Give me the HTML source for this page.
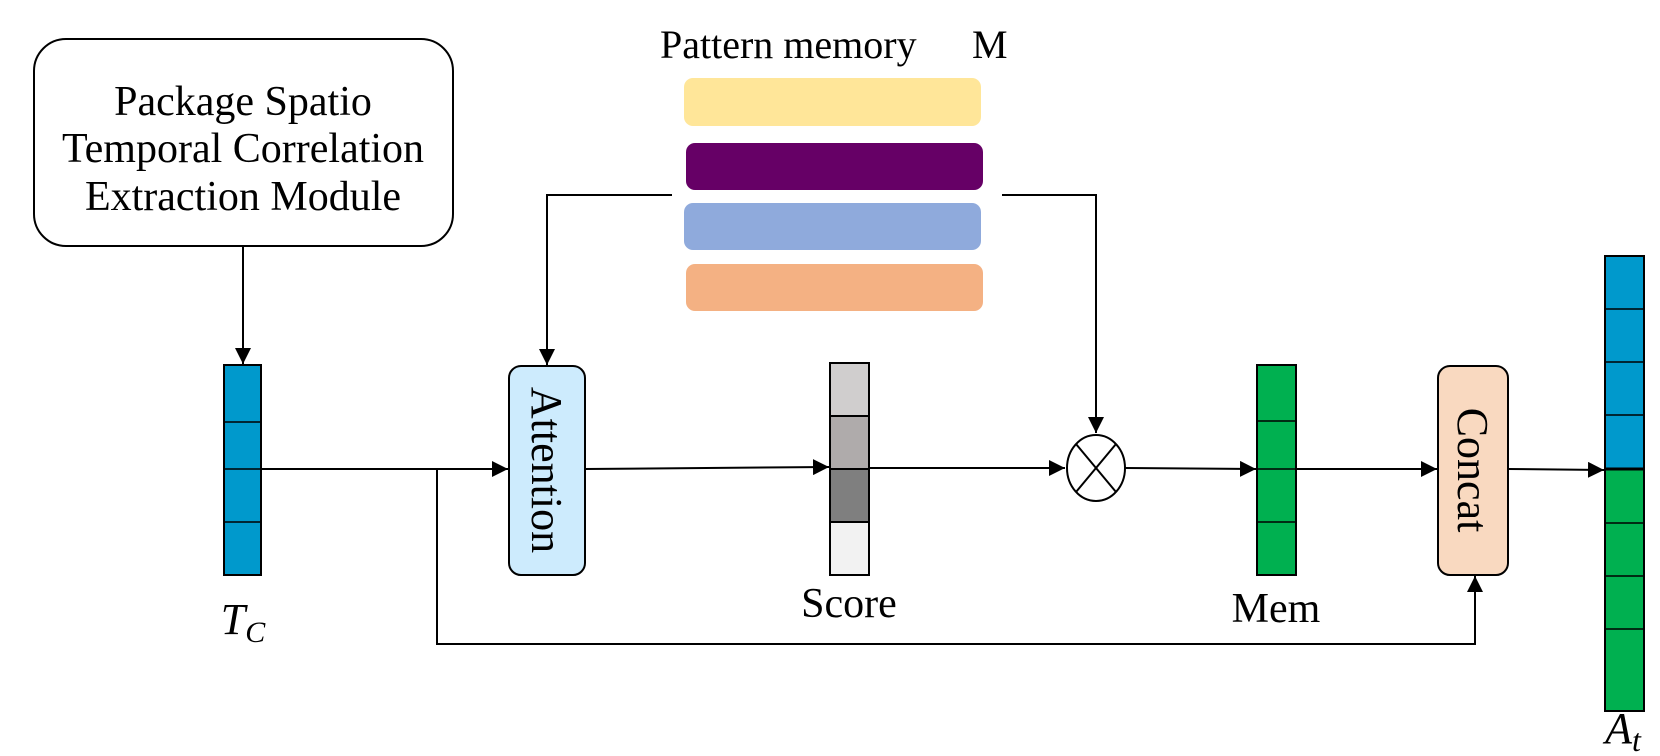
<!DOCTYPE html>
<html><head><meta charset="utf-8"><style>
html,body{margin:0;padding:0;background:#fff;}
svg{display:block;}
text{font-family:"Liberation Serif",serif;fill:#000;}
</style></head><body>
<svg width="1660" height="756" viewBox="0 0 1660 756" xmlns="http://www.w3.org/2000/svg">
<defs>
<marker id="b" viewBox="0 0 10 10" markerWidth="16" markerHeight="16" refX="10" refY="5" orient="auto" markerUnits="userSpaceOnUse">
<path d="M0,0 L10,5 L0,10 z" fill="#000"/>
</marker>
</defs>
<rect x="34" y="39" width="419" height="207" rx="32" fill="#fff" stroke="#000" stroke-width="2"/>
<text x="243" y="115" font-size="42" text-anchor="middle">Package Spatio</text>
<text x="243" y="162" font-size="42" text-anchor="middle">Temporal Correlation</text>
<text x="243" y="210" font-size="42" text-anchor="middle">Extraction Module</text>
<line x1="243" y1="246" x2="243" y2="364" stroke="#000" stroke-width="2" marker-end="url(#b)"/>

<text x="660" y="58" font-size="40">Pattern memory</text>
<text x="972" y="58" font-size="40">M</text>
<rect x="684" y="78" width="297" height="48" rx="9" fill="#ffe699"/>
<rect x="686" y="143" width="297" height="47" rx="9" fill="#660066"/>
<rect x="684" y="203" width="297" height="47" rx="9" fill="#8faadc"/>
<rect x="686" y="264" width="297" height="47" rx="9" fill="#f4b183"/>
<polyline points="672,195 547,195 547,365" fill="none" stroke="#000" stroke-width="2" marker-end="url(#b)"/>
<polyline points="1002,195 1096,195 1096,433" fill="none" stroke="#000" stroke-width="2" marker-end="url(#b)"/>

<rect x="224" y="365" width="37" height="210" fill="#0099cc" stroke="#000" stroke-width="2"/>
<line x1="224" y1="422" x2="261" y2="422" stroke="#000" stroke-width="1.5"/>
<line x1="224" y1="469" x2="261" y2="469" stroke="#000" stroke-width="1.5"/>
<line x1="224" y1="522" x2="261" y2="522" stroke="#000" stroke-width="1.5"/>
<text x="243" y="634" font-size="44" font-style="italic" text-anchor="middle">T<tspan font-size="30" dy="8">C</tspan></text>

<line x1="261" y1="469" x2="508" y2="469" stroke="#000" stroke-width="2" marker-end="url(#b)"/>
<polyline points="437,469 437,644 1475,644 1475,576" fill="none" stroke="#000" stroke-width="2" marker-end="url(#b)"/>

<rect x="509" y="366" width="76" height="209" rx="12" fill="#cdebfd" stroke="#000" stroke-width="2"/>
<text transform="translate(532,470) rotate(90)" font-size="44" text-anchor="middle">Attention</text>
<line x1="585" y1="469" x2="829" y2="467" stroke="#000" stroke-width="2" marker-end="url(#b)"/>

<rect x="830" y="363" width="39" height="53" fill="#d0cece" stroke="#000" stroke-width="2"/>
<rect x="830" y="416" width="39" height="53" fill="#afabab" stroke="#000" stroke-width="2"/>
<rect x="830" y="469" width="39" height="53" fill="#7f7f7f" stroke="#000" stroke-width="2"/>
<rect x="830" y="522" width="39" height="53" fill="#f2f2f2" stroke="#000" stroke-width="2"/>
<text x="849" y="617" font-size="42" text-anchor="middle">Score</text>
<line x1="869" y1="468" x2="1065" y2="468" stroke="#000" stroke-width="2" marker-end="url(#b)"/>

<ellipse cx="1096" cy="468" rx="29" ry="33" fill="#fff" stroke="#000" stroke-width="2"/>
<line x1="1076" y1="444" x2="1116" y2="492" stroke="#000" stroke-width="2"/>
<line x1="1116" y1="444" x2="1076" y2="492" stroke="#000" stroke-width="2"/>
<line x1="1125" y1="468" x2="1256" y2="469" stroke="#000" stroke-width="2" marker-end="url(#b)"/>

<rect x="1257" y="365" width="39" height="210" fill="#00b050" stroke="#000" stroke-width="2"/>
<line x1="1257" y1="421" x2="1296" y2="421" stroke="#000" stroke-width="1.5"/>
<line x1="1257" y1="469" x2="1296" y2="469" stroke="#000" stroke-width="1.5"/>
<line x1="1257" y1="522" x2="1296" y2="522" stroke="#000" stroke-width="1.5"/>
<text x="1276" y="622" font-size="42" text-anchor="middle">Mem</text>
<line x1="1296" y1="469" x2="1437" y2="469" stroke="#000" stroke-width="2" marker-end="url(#b)"/>

<rect x="1438" y="366" width="70" height="209" rx="12" fill="#f9d9c0" stroke="#000" stroke-width="2"/>
<text transform="translate(1458,470) rotate(90)" font-size="44" text-anchor="middle">Concat</text>
<line x1="1508" y1="469" x2="1604" y2="470" stroke="#000" stroke-width="2" marker-end="url(#b)"/>

<rect x="1605" y="256" width="39" height="213" fill="#0099cc" stroke="#000" stroke-width="2"/>
<rect x="1605" y="469" width="39" height="242" fill="#00b050" stroke="#000" stroke-width="2"/>
<line x1="1605" y1="309" x2="1644" y2="309" stroke="#000" stroke-width="1.5"/>
<line x1="1605" y1="362" x2="1644" y2="362" stroke="#000" stroke-width="1.5"/>
<line x1="1605" y1="415" x2="1644" y2="415" stroke="#000" stroke-width="1.5"/>
<line x1="1605" y1="469" x2="1644" y2="469" stroke="#000" stroke-width="3"/>
<line x1="1605" y1="523" x2="1644" y2="523" stroke="#000" stroke-width="1.5"/>
<line x1="1605" y1="576" x2="1644" y2="576" stroke="#000" stroke-width="1.5"/>
<line x1="1605" y1="629" x2="1644" y2="629" stroke="#000" stroke-width="1.5"/>
<text x="1623" y="743" font-size="44" font-style="italic" text-anchor="middle">A<tspan font-size="32" dy="8">t</tspan></text>
</svg>
</body></html>
